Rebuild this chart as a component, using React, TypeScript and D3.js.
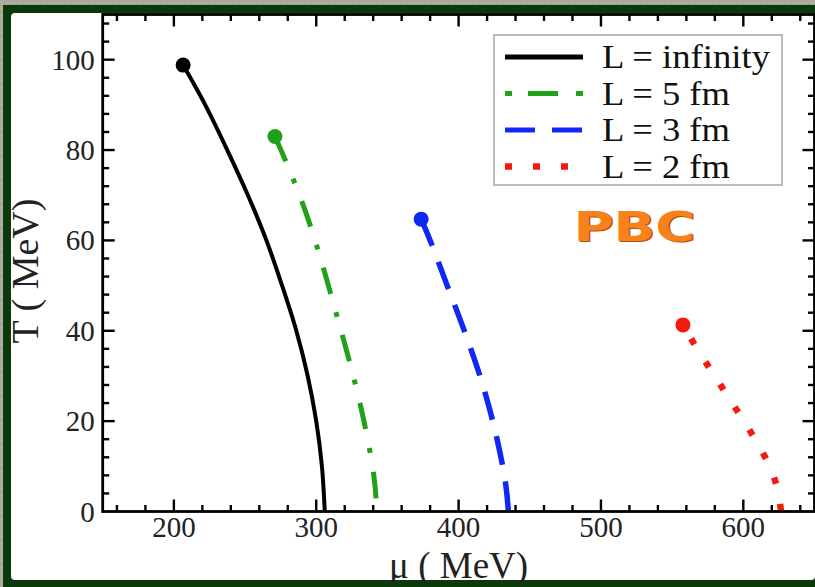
import React from 'react';
import * as d3 from 'd3';

// ---- data ----
const seriesLabels = ['L = infinity', 'L = 5 fm', 'L = 3 fm', 'L = 2 fm'];

const tInf = [98.8, 90, 80, 70, 60, 50, 40, 30, 20, 10, 0];
const muInf = [206.5, 222, 237.5, 252, 265, 276, 286, 294, 300, 304, 306];

const t5 = [83, 75, 65, 55, 45, 40, 30, 20, 10, 5, 0];
const mu5 = [271, 282, 294, 304, 313, 317.5, 326, 333.5, 339.5, 341.5, 342.5];

const t3 = [64.7, 60, 50, 40, 30, 20, 10, 5, 0];
const mu3 = [373.7, 380, 392, 404, 415, 424, 431, 433.5, 435];

const t2 = [41.3, 35, 30, 25, 20, 15, 10, 5, 0];
const mu2 = [557.6, 569.5, 580, 590, 600.5, 610, 618.5, 624, 626.5];

const xTickLabels = [200, 300, 400, 500, 600];
const yTickLabels = [0, 20, 40, 60, 80, 100];
const xMinorTicks = d3.range(160, 650, 20);
const yMinorTicks = d3.range(4, 110, 4);

const xTitle = 'μ ( MeV)';
const yTitle = 'T ( MeV)';
const tag = 'PBC';

// ---- styles ----
const styles = [
  { color: '#000000', width: 4, dash: undefined as string | undefined, offset: 0 },
  { color: '#22a01a', width: 5, dash: '27 19 5 19', offset: 0 },
  { color: '#1028f5', width: 5.5, dash: '29 17', offset: 0 },
  { color: '#f41a10', width: 6.5, dash: '6.5 20.5', offset: 11 },
];
const legendDash = [undefined, '7 16 30 18 7 50', '30 17 30 50', '7 21 7 21 7 50'];

const W = 815;
const H = 587;
const SERIF = '"Liberation Serif", "Times New Roman", serif';

export default function App() {
  const x = d3.scaleLinear().domain([150, 650]).range([102.7, 814.5]);
  const y = d3.scaleLinear().domain([0, 110]).range([511.5, 14.5]);

  const series = [
    { t: tInf, mu: muInf },
    { t: t5, mu: mu5 },
    { t: t3, mu: mu3 },
    { t: t2, mu: mu2 },
  ];

  const line = d3
    .line<[number, number]>()
    .x((d) => x(d[0]))
    .y((d) => y(d[1]))
    .curve(d3.curveCatmullRom.alpha(0.5));

  const x0 = x.range()[0];
  const x1 = x.range()[1];
  const y0 = y.range()[0];
  const y1 = y.range()[1];

  const majorLen = 12;
  const minorLen = 6.5;

  const legendRowsY = [68, 104.5, 141, 177.5];
  const legendTextW = [168, 128, 128, 128];

  return (
    <svg
      width={W}
      height={H}
      style={{ position: 'absolute', left: 0, top: 0, display: 'block' }}
    >
      <defs>
        <pattern id="tex" width="6" height="6" patternUnits="userSpaceOnUse">
          <rect width="6" height="6" fill="#aca99c" />
          <rect x="1" y="2" width="2" height="1" fill="#bdbab0" />
          <rect x="4" y="4" width="1" height="2" fill="#9d9a8e" />
        </pattern>
        <clipPath id="plotClip">
          <rect x={x0} y={y1} width={x1 - x0} height={y0 - y1} />
        </clipPath>
      </defs>

      {/* background frame */}
      <rect x={0} y={0} width={W} height={H} fill="url(#tex)" />
      <rect x={3} y={5} width={W - 3} height={H - 5} fill="#0a3a0c" />
      <rect x={11} y={13} width={W - 11} height={580 - 13} rx={4} fill="#ffffff" />

      {/* curves */}
      <g clipPath="url(#plotClip)">
        {series.map((s, i) => {
          const pts = s.t.map((t, k) => [s.mu[k], t] as [number, number]);
          const st = styles[i];
          return (
            <path
              key={i}
              d={line(pts) || ''}
              fill="none"
              stroke={st.color}
              strokeWidth={st.width}
              strokeDasharray={st.dash}
              strokeDashoffset={st.offset}
              strokeLinecap="butt"
            />
          );
        })}
      </g>
      {series.map((s, i) => (
        <circle
          key={'m' + i}
          cx={x(s.mu[0])}
          cy={y(s.t[0])}
          r={7.5}
          fill={styles[i].color}
        />
      ))}

      {/* axes frame */}
      <rect
        x={x0}
        y={y1}
        width={x1 - x0}
        height={y0 - y1}
        fill="none"
        stroke="#000"
        strokeWidth={2.8}
      />
      {/* x ticks bottom & top */}
      {xMinorTicks.map((v) => {
        const major = v % 100 === 0;
        const L = major ? majorLen : minorLen;
        return (
          <g key={'xt' + v} stroke="#000" strokeWidth={2.4}>
            <line x1={x(v)} x2={x(v)} y1={y0} y2={y0 - L} />
            <line x1={x(v)} x2={x(v)} y1={y1} y2={y1 + L} />
          </g>
        );
      })}
      {/* y ticks left & right */}
      {yMinorTicks.map((v) => {
        const major = v % 20 === 0;
        const L = major ? majorLen : minorLen;
        return (
          <g key={'yt' + v} stroke="#000" strokeWidth={2.4}>
            <line x1={x0} x2={x0 + L} y1={y(v)} y2={y(v)} />
            <line x1={x1} x2={x1 - L} y1={y(v)} y2={y(v)} />
          </g>
        );
      })}

      {/* tick labels */}
      {xTickLabels.map((v) => (
        <text
          key={'xl' + v}
          x={x(v)}
          y={537}
          textAnchor="middle"
          fontFamily={SERIF}
          fontSize={29}
          fill="#222"
        >
          {v}
        </text>
      ))}
      {yTickLabels.map((v) => (
        <text
          key={'yl' + v}
          x={x0 - 8}
          y={y(v) + 10}
          textAnchor="end"
          fontFamily={SERIF}
          fontSize={29}
          fill="#222"
        >
          {v}
        </text>
      ))}

      {/* axis titles */}
      <text
        x={(x0 + x1) / 2}
        y={578}
        textAnchor="middle"
        fontFamily={SERIF}
        fontSize={37}
        fill="#222"
      >
        {xTitle}
      </text>
      <text
        transform={`translate(38, 271) rotate(-90)`}
        textAnchor="middle"
        fontFamily={SERIF}
        fontSize={38}
        fill="#222"
      >
        {yTitle}
      </text>

      {/* legend */}
      <rect x={494} y={35} width={288} height={150} fill="#fff" stroke="#bbbbbb" strokeWidth={2} />
      {seriesLabels.map((lab, i) => {
        const by = legendRowsY[i];
        const ly = by - 11;
        const st = styles[i];
        return (
          <g key={'lg' + i}>
            <line
              x1={505}
              x2={583}
              y1={ly}
              y2={ly}
              stroke={st.color}
              strokeWidth={i === 3 ? 6.5 : 5}
              strokeDasharray={legendDash[i]}
            />
            <text
              x={602}
              y={by}
              fontFamily={SERIF}
              fontSize={33}
              textLength={legendTextW[i]}
              lengthAdjust="spacingAndGlyphs"
              fill="#111"
            >
              {lab}
            </text>
          </g>
        );
      })}

      {/* PBC tag */}
      <text
        x={636}
        y={242}
        textAnchor="middle"
        fontFamily='"DejaVu Sans", sans-serif'
        fontWeight="bold"
        fontSize={40}
        textLength={122}
        lengthAdjust="spacingAndGlyphs"
        fill="#b85200"
      >
        {tag}
      </text>
      <text
        x={634.5}
        y={240.5}
        textAnchor="middle"
        fontFamily='"DejaVu Sans", sans-serif'
        fontWeight="bold"
        fontSize={40}
        textLength={122}
        lengthAdjust="spacingAndGlyphs"
        fill="#f7821c"
      >
        {tag}
      </text>
    </svg>
  );
}
